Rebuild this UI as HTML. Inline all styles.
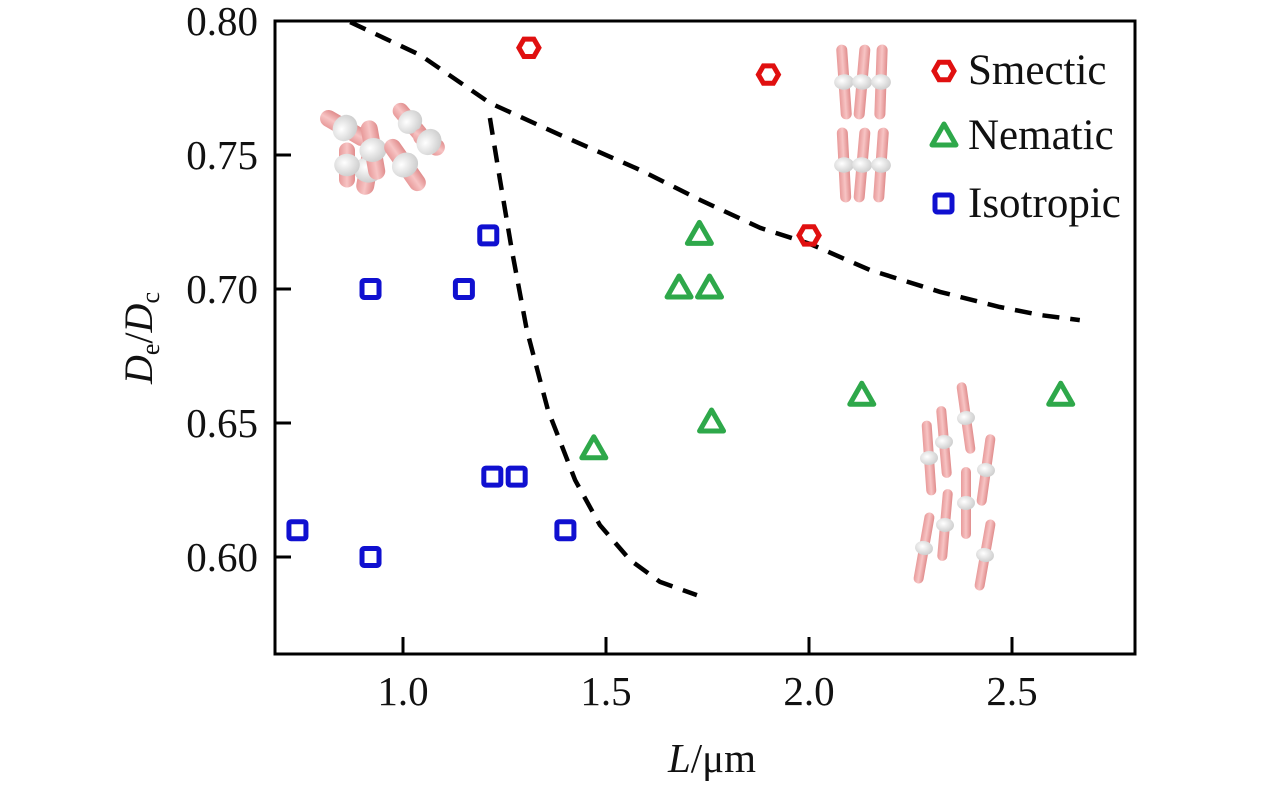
<!DOCTYPE html>
<html><head><meta charset="utf-8"><style>
body{margin:0;background:#fff}
svg text{font-family:"Liberation Serif",serif;fill:#111}
</style></head><body>
<svg id="chart" width="1276" height="787" viewBox="0 0 1276 787" xmlns="http://www.w3.org/2000/svg">
<defs>
<linearGradient id="rod" x1="0" x2="1" y1="0" y2="0"><stop offset="0" stop-color="#e89a9a"/><stop offset="0.5" stop-color="#f7c4c4"/><stop offset="1" stop-color="#e08c8c"/></linearGradient>
<radialGradient id="bead" cx="0.4" cy="0.4" r="0.7"><stop offset="0" stop-color="#fff"/><stop offset="1" stop-color="#c8c8c8"/></radialGradient>
</defs>
<g id="illus"></g>
<g id="curves"></g>
<g id="marks"></g>
<g id="axes"></g>
<text transform="translate(152,338) rotate(-90)" text-anchor="middle" font-size="40"><tspan font-style="italic">D</tspan><tspan font-size="26" dy="7">e</tspan><tspan dy="-7">/</tspan><tspan font-style="italic">D</tspan><tspan font-size="26" dy="7">c</tspan></text>
<text x="712" y="772" text-anchor="middle" font-size="41"><tspan font-style="italic">L</tspan>/μm</text>
<g>
<polygon points="954,71 949,79.7 939,79.7 934,71 939,62.3 949,62.3" fill="none" stroke="#e01010" stroke-width="5"/>
<text x="968" y="84" font-size="43">Smectic</text>
<polygon points="944,124 956,145 932,145" fill="none" stroke="#2ea84a" stroke-width="5" stroke-linejoin="round"/>
<text x="968" y="149" font-size="43">Nematic</text>
<rect x="935" y="195" width="17" height="17" rx="2" fill="none" stroke="#1010d0" stroke-width="5"/>
<text x="968" y="217" font-size="43">Isotropic</text>
</g>
</svg>
<script>
const xTicks=[1.0,1.5,2.0,2.5];
const xTickLabels=["1.0","1.5","2.0","2.5"];
const yTicks=[0.60,0.65,0.70,0.75,0.80];
const yTickLabels=["0.60","0.65","0.70","0.75","0.80"];
const smecticX=[1.31,1.90,2.00];
const smecticY=[0.79,0.78,0.72];
const nematicX=[1.73,1.68,1.755,1.76,1.47,2.13,2.62];
const nematicY=[0.72,0.70,0.70,0.65,0.64,0.66,0.66];
const isoX=[0.74,0.92,0.92,1.15,1.21,1.22,1.28,1.40];
const isoY=[0.61,0.60,0.70,0.70,0.72,0.63,0.63,0.61];
const boundary1X=[0.87,1.042,1.214,1.387,1.584,1.732,1.880,2.003,2.150,2.323,2.470,2.569,2.667];
const boundary1Y=[0.7996,0.7873,0.7694,0.7575,0.7444,0.7332,0.7228,0.7168,0.7071,0.6989,0.6933,0.6903,0.6884];
const boundary2X=[1.214,1.239,1.268,1.305,1.357,1.424,1.485,1.559,1.633,1.724];
const boundary2Y=[0.7638,0.7407,0.7146,0.6847,0.6549,0.6287,0.6119,0.5989,0.5907,0.5858];

const NS="http://www.w3.org/2000/svg";
const L=275,R=1135,T=21,B=654;
function sx(v){return 403+(v-1.0)*406;}
function sy(v){return 21+(0.80-v)*2680;}
function mk(tag,attrs,parent){const e=document.createElementNS(NS,tag);for(const k in attrs)e.setAttribute(k,attrs[k]);parent.appendChild(e);return e;}

const axes=document.getElementById('axes');
const frame=mk('rect',{x:L,y:T,width:R-L,height:B-T,fill:'none',stroke:'#000','stroke-width':3},axes);


xTicks.forEach((t,i)=>{
  const ln=mk('line',{x1:sx(t),x2:sx(t),y1:B,y2:B-17,stroke:'#000','stroke-width':3},axes);
  
  
  const tx=mk('text',{x:sx(t),y:705,'text-anchor':'middle','font-size':41},axes);
  tx.textContent=xTickLabels[i];
  
  
});
yTicks.forEach((t,i)=>{
  const ln=mk('line',{x1:L,x2:L+16,y1:sy(t),y2:sy(t),stroke:'#000','stroke-width':3},axes);
  
  
  const tx=mk('text',{x:258,y:sy(t)+14,'text-anchor':'end','font-size':41},axes);
  tx.textContent=yTickLabels[i];
  
  
});

const curves=document.getElementById('curves');
function pathOf(xs,ys){return xs.map((x,i)=>(i?'L':'M')+sx(x).toFixed(1)+','+sy(ys[i]).toFixed(1)).join(' ');}
const c1=mk('path',{d:pathOf(boundary1X,boundary1Y),fill:'none',stroke:'#000','stroke-width':4.5,'stroke-dasharray':'17 11'},curves);


const c2=mk('path',{d:pathOf(boundary2X,boundary2Y),fill:'none',stroke:'#000','stroke-width':4.5,'stroke-dasharray':'17 11'},curves);



const marks=document.getElementById('marks');
smecticX.forEach((x,i)=>{
  const cx=sx(x),cy=sy(smecticY[i]),r=10;let p=[];
  for(let k=0;k<6;k++){const a=Math.PI/3*k;p.push((cx+r*Math.cos(a)).toFixed(1)+','+(cy+r*Math.sin(a)).toFixed(1));}
  const e=mk('polygon',{points:p.join(' '),fill:'none',stroke:'#e01010','stroke-width':5},marks);
  
  
});
nematicX.forEach((x,i)=>{
  const cx=sx(x),cy=sy(nematicY[i]);
  const e=mk('polygon',{points:`${cx},${cy-13} ${cx+12},${cy+8} ${cx-12},${cy+8}`,fill:'none',stroke:'#2ea84a','stroke-width':5,'stroke-linejoin':'round'},marks);
  
  
});
isoX.forEach((x,i)=>{
  const cx=sx(x),cy=sy(isoY[i]);
  const e=mk('rect',{x:cx-8.5,y:cy-8.5,width:17,height:17,rx:2,fill:'none',stroke:'#1010d0','stroke-width':5},marks);
  
  
});

const ill=document.getElementById('illus');
function rod(cx,cy,len,ang,w,bead,parent){
  const g=mk('g',{transform:`translate(${cx},${cy}) rotate(${ang})`},parent);
  mk('rect',{x:-w/2,y:-len/2,width:w,height:len,rx:w/2,fill:'url(#rod)'},g);
  mk('ellipse',{cx:0,cy:0,rx:w*bead,ry:w*0.7,fill:'url(#bead)'},g);
}
const iso=mk('g',{},ill);
[[345,128,55,-60,17],[368,170,50,10,18],[410,122,45,-40,16],[429,142,35,-55,17],[347,165,45,0,16],[373,150,60,-10,17],[405,165,60,-35,17]].forEach(r=>rod(r[0],r[1],r[2],r[3],r[4],0.8,iso));
const sm=mk('g',{},ill);
[[844,82,75,-4,11],[862,82,75,5,11],[881,82,75,2,11],[844,165,75,-3,11],[862,165,75,5,11],[881,165,75,4,11]].forEach(r=>rod(r[0],r[1],r[2],r[3],r[4],0.9,sm));
const ne=mk('g',{},ill);
[[929,458,75,-4,10],[944,442,72,-5,10],[966,418,72,-8,10],[986,470,72,8,10],[924,548,72,10,10],[945,525,72,5,10],[966,503,72,0,10],[985,555,72,10,10]].forEach(r=>rod(r[0],r[1],r[2],r[3],r[4],0.9,ne));
</script>
</body></html>
